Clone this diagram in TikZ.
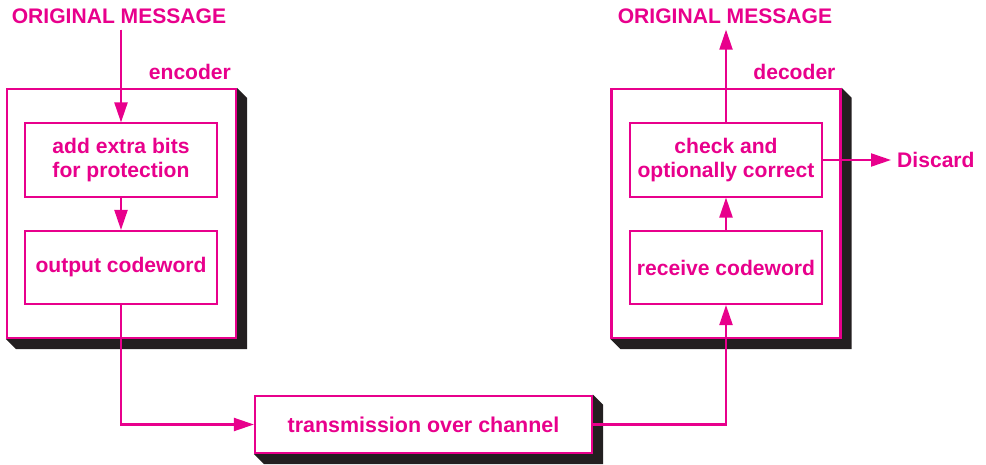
\documentclass[tikz,border=0pt]{standalone}
\usepackage{fontspec}
\setmainfont{Liberation Sans}
\usepackage{tikz}
\usetikzlibrary{arrows.meta,positioning,calc,backgrounds}
\usepackage{xcolor}
\definecolor{codemagenta}{RGB}{232,0,140}
\definecolor{shadowgray}{RGB}{35,31,32}
\tikzset{
    outerbox/.style={rectangle, draw=codemagenta, fill=white, line width=1.3pt, minimum width=4.58cm, minimum height=4.98cm},
    stepbox/.style={rectangle, draw=codemagenta, fill=white, line width=0.9pt, minimum width=3.84cm, minimum height=1.47cm, align=center, font=\fontsize{12}{14}\selectfont\bfseries, text=codemagenta},
    chanbox/.style={rectangle, draw=codemagenta, fill=white, line width=1.3pt, minimum width=6.74cm, minimum height=1.14cm, font=\fontsize{12.2}{14}\selectfont\bfseries, text=codemagenta},
    title/.style={font=\fontsize{12}{14}\selectfont\bfseries, text=codemagenta},
    boxlabel/.style={font=\fontsize{12}{14}\selectfont\bfseries, text=codemagenta},
    flow/.style={draw=codemagenta, line width=1.2pt, -{Triangle[length=4mm, width=2.6mm]}},
}
% bevelled drop shadow behind a box
\newcommand{\boxshadow}[1]{%
    \begin{pgfonlayer}{background}
    \fill[shadowgray] (#1.north east) -- ++(10,10) -- ($(#1.south east)+(10,10)$)
        -- ($(#1.south west)+(10,10)$) -- (#1.south west) -- cycle;
    \end{pgfonlayer}}

\begin{document}
\begin{tikzpicture}[x=0.02cm, y=-0.02cm]
    \useasboundingbox (0,0) rectangle (986,465);

    % Encoder (left)
    \node[outerbox] (enc) at (121.5, 213.5) {};
    \node[boxlabel, anchor=south east] (enclabel) at ($(enc.north east)+(0,-2)$) {encoder};
    \node[stepbox] (addbits) at (121, 160) {add extra bits\\for protection};
    \node[stepbox] (outcw) at (121, 267.5) {output codeword};
    \node[title] (msgin) at (119, 16) {ORIGINAL MESSAGE};

    % Decoder (right)
    \node[outerbox] (dec) at (726, 213.5) {};
    \node[boxlabel, anchor=south east] (declabel) at ($(dec.north east)+(0,-2)$) {decoder};
    \node[stepbox] (chk) at (726, 160) {check and\\optionally correct};
    \node[stepbox] (rcv) at (726, 267.5) {receive codeword};
    \node[title] (msgout) at (725, 16) {ORIGINAL MESSAGE};
    \node[boxlabel, anchor=west] (discard) at (891, 160) {Discard};

    % Channel
    \node[chanbox] (trans) at (423.5, 424.5) {transmission over channel};

    \boxshadow{enc}
    \boxshadow{dec}
    \boxshadow{trans}

    % Connections
    \draw[flow] (msgin.south -| addbits.north) -- (addbits.north);
    \draw[flow] (addbits) -- (outcw);
    \draw[flow] (outcw.south) |- (trans.west);
    \draw[flow] (trans.east) -| (rcv.south);
    \draw[flow] (rcv) -- (chk);
    \draw[flow] (chk.north) -- (chk.north |- msgout.south);
    \draw[flow] (chk.east) -- (discard.west);
\end{tikzpicture}
\end{document}
